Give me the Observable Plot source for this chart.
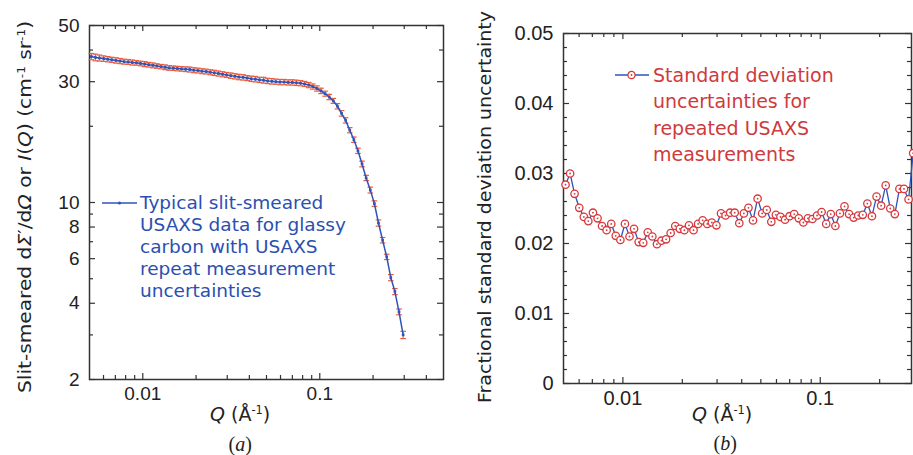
<!DOCTYPE html>
<html><head><meta charset="utf-8">
<script src="https://cdn.jsdelivr.net/npm/d3@7"></script>
<script src="https://cdn.jsdelivr.net/npm/@observablehq/plot@0.6"></script>
<style>
body{margin:0;background:#fff;}
#wrap{position:relative;width:913px;height:455px;overflow:hidden;background:#fff;font-family:"DejaVu Sans",sans-serif;}
.panel{position:absolute;top:0;}
.lbl{position:absolute;white-space:nowrap;color:#222;line-height:1;}
.legend{position:absolute;white-space:nowrap;}
sup{font-size:60%;vertical-align:0;position:relative;top:-0.6em;}
</style></head><body><div id="wrap"></div>
<script>
// ---- data ----
const Q = [0.00512,0.0054,0.00569,0.00601,0.00634,0.00668,0.00705,0.00744,0.00784,0.00827,
0.00873,0.0092,0.00971,0.01024,0.0108,0.01139,0.01202,0.01268,0.01337,0.0141,
0.01488,0.01569,0.01655,0.01746,0.01842,0.01943,0.02049,0.02162,0.0228,0.02405,
0.02537,0.02676,0.02823,0.02978,0.03141,0.03313,0.03495,0.03686,0.03889,0.04102,
0.04327,0.04564,0.04814,0.05078,0.05357,0.0565,0.0596,0.06287,0.06632,0.06995,
0.07379,0.07783,0.0821,0.0866,0.09135,0.09636,0.1016,0.1072,0.1131,0.1193,
0.1258,0.1327,0.14,0.1477,0.1558,0.1643,0.1733,0.1828,0.1929,0.2035,
0.2146,0.2264,0.2388,0.2519,0.2657,0.2803,0.2957];
const intensity = [37.7,37.4,37.2,37.0,36.8,36.6,36.4,36.2,36.0,35.9,
35.7,35.6,35.4,35.2,35.0,34.8,34.6,34.4,34.2,34.0,
33.9,33.8,33.7,33.6,33.5,33.3,33.2,33.0,32.9,32.7,
32.5,32.3,32.1,31.9,31.7,31.5,31.3,31.2,31.0,30.8,
30.7,30.5,30.4,30.2,30.1,30.0,29.9,29.9,29.8,29.8,
29.7,29.6,29.4,29.1,28.7,28.2,27.6,26.9,26.1,25.2,
24.0,22.5,21.1,19.3,17.7,16.0,14.2,12.5,11.2,9.9,
8.3,7.1,6.1,5.05,4.45,3.7,3.0];
const fracUnc = [0.0284,0.0300,0.0271,0.0251,0.0238,0.0232,0.0244,0.0236,0.0225,0.0219,
0.0228,0.0211,0.0205,0.0228,0.0210,0.0221,0.0202,0.0201,0.0216,0.0210,
0.0199,0.0204,0.0206,0.0215,0.0225,0.0221,0.0219,0.0226,0.0219,0.0228,
0.0233,0.0228,0.0230,0.0226,0.0243,0.0240,0.0244,0.0244,0.0229,0.0243,
0.0251,0.0233,0.0264,0.0243,0.0248,0.0231,0.0241,0.0238,0.0234,0.0239,
0.0242,0.0236,0.0230,0.0236,0.0235,0.0240,0.0245,0.0228,0.0242,0.0225,
0.0243,0.0253,0.0242,0.0237,0.0240,0.0241,0.0257,0.0239,0.0267,0.0254,
0.0283,0.0250,0.0242,0.0278,0.0278,0.0263,0.0329];
// tick values
const xMajorTicks = [0.01, 0.1];
const xMinorTicksA = [0.006,0.007,0.008,0.009,0.02,0.03,0.04,0.05,0.06,0.07,0.08,0.09,0.2,0.3,0.4];
const xMinorTicksB = [0.006,0.007,0.008,0.009,0.02,0.03,0.04,0.05,0.06,0.07,0.08,0.09,0.2];
const xTickLabels = ["0.01", "0.1"];
const yLabelsA = ["2","4","6","8","10","30","50"];
const yMinorA = [3,5,7,9,20,40];
const yLabelsB = ["0","0.01","0.02","0.03","0.04","0.05"];
const yMinorB = [0.002,0.004,0.006,0.008,0.012,0.014,0.016,0.018,0.022,0.024,0.026,0.028,0.032,0.034,0.036,0.038,0.042,0.044,0.046,0.048];

const legendA = ["Typical slit-smeared","USAXS data for glassy","carbon with USAXS","repeat measurement","uncertainties"];
const legendB = ["Standard deviation","uncertainties for","repeated USAXS","measurements"];

const BLUE = "#2c54ba", RED = "#d8383c", ORANGE = "#ee5c3c", AX = "#333";
const rows = Q.map((q,i)=>({q, I:intensity[i], f:fracUnc[i], lo:intensity[i]*(1-fracUnc[i]), hi:intensity[i]*(1+fracUnc[i])}));

const hbar = {draw(ctx, size){const r=Math.sqrt(size/Math.PI); ctx.moveTo(-r,0); ctx.lineTo(r,0);}};

function tickMarks(xMaj, xMin, yMaj, yMin, fw, fh){
  const L=6, l=4, s={stroke:AX, strokeWidth:1.2};
  return [
    Plot.tickY(yMaj,{y:d=>+d, insetRight:fw-L, ...s}),
    Plot.tickY(yMin,{y:d=>d, insetRight:fw-l, ...s}),
    Plot.tickY(yMaj,{y:d=>+d, insetLeft:fw-L, ...s}),
    Plot.tickY(yMin,{y:d=>d, insetLeft:fw-l, ...s}),
    Plot.tickX(xMaj,{x:d=>d, insetTop:fh-L, ...s}),
    Plot.tickX(xMin,{x:d=>d, insetTop:fh-l, ...s}),
    Plot.tickX(xMaj,{x:d=>d, insetBottom:fh-L, ...s}),
    Plot.tickX(xMin,{x:d=>d, insetBottom:fh-l, ...s}),
  ];
}
function tickLabels(xl, yl, fs){
  return [
    Plot.text(yl,{y:d=>+d, text:d=>d, frameAnchor:"left", textAnchor:"end", dx:-10, fill:"#222", fontSize:fs}),
    Plot.text(xl,{x:d=>+d, text:d=>d, frameAnchor:"bottom", lineAnchor:"top", dy:7, fill:"#222", fontSize:fs})
  ];
}

const wrap = document.getElementById("wrap");
const H = 455;
// ---- panel (a) ----
const mA = {l:89, r:13, t:25, b:76}, WA = 456;
const fwA = WA-mA.l-mA.r, fhA = H-mA.t-mA.b;
const plotA = Plot.plot({
  width: WA, height: H, marginLeft:mA.l, marginRight:mA.r, marginTop:mA.t, marginBottom:mA.b,
  x:{type:"log", domain:[0.005,0.5], axis:null},
  y:{type:"log", domain:[2,50], axis:null},
  style:{fontFamily:"Liberation Sans, Arial, sans-serif", fontSize:"19px", color:"#222", background:"transparent", overflow:"visible"},
  marks:[
    ...tickMarks(xMajorTicks, xMinorTicksA, yLabelsA, yMinorA, fwA, fhA),
    Plot.frame({stroke:AX, strokeWidth:1.5}),
    ...tickLabels(xTickLabels, yLabelsA, 19),
    Plot.ruleX(rows,{x:"q", y1:"lo", y2:"hi", stroke:ORANGE, strokeWidth:1.1}),
    Plot.dot(rows,{x:"q", y:"lo", symbol:hbar, r:2.8, stroke:ORANGE, fill:"none", strokeWidth:1.2}),
    Plot.dot(rows,{x:"q", y:"hi", symbol:hbar, r:2.8, stroke:ORANGE, fill:"none", strokeWidth:1.2}),
    Plot.line(rows,{x:"q", y:"I", stroke:BLUE, strokeWidth:1.5}),
    Plot.dot(rows,{x:"q", y:"I", symbol:"square", r:1.5, fill:BLUE, stroke:"none"})
  ]
});
plotA.classList.add("panel"); plotA.style.left="0px";
wrap.appendChild(plotA);

// ---- panel (b) ----
const mB = {l:107, r:2, t:33, b:72}, WB = 457;
const fwB = WB-mB.l-mB.r, fhB = H-mB.t-mB.b;
const plotB = Plot.plot({
  width: WB, height: H, marginLeft:mB.l, marginRight:mB.r, marginTop:mB.t, marginBottom:mB.b,
  x:{type:"log", domain:[0.005,0.29], axis:null},
  y:{domain:[0,0.05], axis:null},
  style:{fontFamily:"Liberation Sans, Arial, sans-serif", fontSize:"20px", color:"#222", background:"transparent", overflow:"visible"},
  marks:[
    ...tickMarks(xMajorTicks, xMinorTicksB, yLabelsB, yMinorB, fwB, fhB),
    Plot.frame({stroke:AX, strokeWidth:1.5}),
    ...tickLabels(xTickLabels, yLabelsB, 20),
    Plot.line(rows,{x:"q", y:"f", stroke:BLUE, strokeWidth:1.3}),
    Plot.dot(rows,{x:"q", y:"f", r:3.7, stroke:RED, fill:"white", strokeWidth:1.3}),
    Plot.dot(rows,{x:"q", y:"f", r:0.9, fill:RED, stroke:"none"})
  ]
});
plotB.classList.add("panel"); plotB.style.left="456px";
wrap.appendChild(plotB);

// ---- text overlays ----
function addLabel(html, cx, cy, opts={}){
  const el = document.createElement("div");
  el.className="lbl"; el.innerHTML=html;
  el.style.fontSize=(opts.size||19)+"px";
  if(opts.font) el.style.fontFamily=opts.font;
  wrap.appendChild(el);
  const w=el.offsetWidth, h=el.offsetHeight;
  el.style.left=(cx-w/2)+"px"; el.style.top=(cy-h/2)+"px";
  let t="";
  if(opts.rotate) t+="rotate(-90deg) ";
  if(opts.length) t+="scaleX("+(opts.length/w)+")";
  el.style.transformOrigin="center"; el.style.transform=t;
  return el;
}
addLabel('Slit-smeared d<i>Σ</i>′/d<i>Ω</i> or <i>I</i>(<i>Q</i>) (cm<sup>-1</sup> sr<sup>-1</sup>)', 25, 207, {size:18, rotate:true, length:372});
addLabel('Fractional standard deviation uncertainty', 485, 207, {size:18, rotate:true, length:392});
addLabel('<i>Q</i> (Å<sup>-1</sup>)', 240, 414, {size:19});
addLabel('<i>Q</i> (Å<sup>-1</sup>)', 722, 414, {size:19});
addLabel('(<i>a</i>)', 240, 444, {size:20, font:"Liberation Serif, serif"});
addLabel('(<i>b</i>)', 725, 443, {size:20, font:"Liberation Serif, serif"});

function addLegend(lines, x, y, lh, size, color, symbolSvg, symW){
  const box=document.createElement("div");
  box.className="legend";
  box.style.left=(x-symW)+"px"; box.style.top=(y-lh/2)+"px";
  box.style.fontSize=size+"px"; box.style.lineHeight=lh+"px"; box.style.color=color;
  box.innerHTML = lines.map((t,i)=>'<div style="position:relative;padding-left:'+symW+'px">'+(i===0?symbolSvg:'')+t+'</div>').join("");
  wrap.appendChild(box);
}
const symA = '<svg width="36" height="10" style="position:absolute;left:0;top:'+(22/2-5)+'px"><line x1="0" y1="5" x2="35" y2="5" stroke="'+BLUE+'" stroke-width="1.5"/><circle cx="17.5" cy="5" r="1.6" fill="'+BLUE+'"/></svg>';
addLegend(legendA, 140, 203, 22, 18.5, "#2b4fb0", symA, 38);
const symB = '<svg width="36" height="12" style="position:absolute;left:0;top:'+(26.5/2-6)+'px"><line x1="0" y1="6" x2="34" y2="6" stroke="'+BLUE+'" stroke-width="1.3"/><circle cx="16.5" cy="6" r="3.6" fill="white" stroke="'+RED+'" stroke-width="1.3"/><circle cx="16.5" cy="6" r="0.9" fill="'+RED+'"/></svg>';
addLegend(legendB, 653, 75, 26.5, 19, "#d03a3c", symB, 38);
</script></body></html>
